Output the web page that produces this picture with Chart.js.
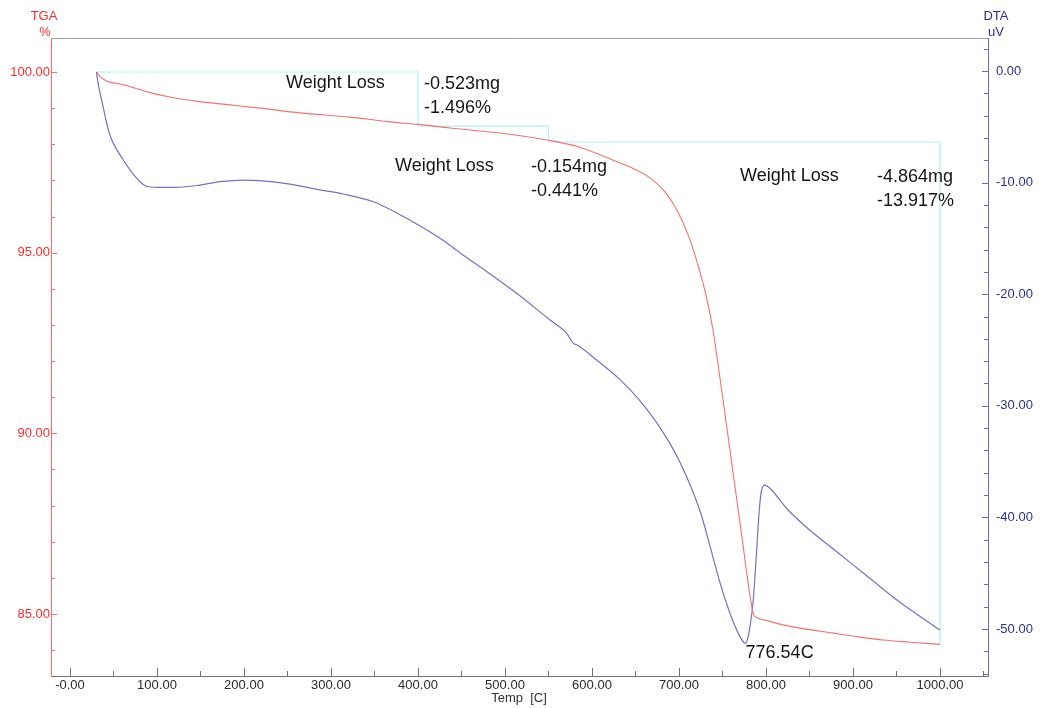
<!DOCTYPE html>
<html>
<head>
<meta charset="utf-8">
<title>TGA / DTA</title>
<script src="https://cdn.jsdelivr.net/npm/chart.js@4.4.1/dist/chart.umd.min.js"></script>
<style>
  html, body { margin: 0; padding: 0; background: #ffffff; }
  canvas { display: block; }
</style>
</head>
<body>
<canvas id="thermo" width="1041" height="708"></canvas>
<script>
const FONT = "'Liberation Sans', Arial, Helvetica, sans-serif";

// TGA trace: temperature (°C) and residual mass (%)
const tgaTemp = [31, 34.5, 63.2, 92, 120.7, 149.4, 183.9, 218.4, 264.4, 321.8, 367.8, 399.7, 436.8, 494.3,
  547.9, 586.2, 624.1, 643.7, 666.7, 683.9, 698.9, 711.5, 721.8, 731.0, 739.1, 747.1, 758.6, 771.3, 782.8,
  785.6, 789.7, 798.9, 816.1, 839.1, 877, 908, 934.5, 965.5, 1000];
const tgaPercent = [100.00, 99.87, 99.64, 99.43, 99.28, 99.18, 99.09, 99.00, 98.87, 98.75, 98.62, 98.55, 98.45, 98.31,
  98.12, 97.92, 97.56, 97.37, 97.07, 96.68, 96.12, 95.43, 94.66, 93.83, 92.86, 91.53, 89.54, 87.32, 85.33,
  85.00, 84.90, 84.83, 84.72, 84.61, 84.47, 84.36, 84.28, 84.22, 84.16];

// DTA trace: temperature (°C) and signal (uV)
const dtaTemp = [30.5, 32, 36.4, 45.2, 61.3, 80.5, 90, 103.4, 122.6, 149.4, 172.4, 199.2, 218.4, 252.9, 283.5,
  314.1, 348.6, 387, 425.3, 452.1, 475.1, 513.4, 551.7, 570.9, 578.5, 583, 605.4, 632.2, 655.2, 678.2,
  701.1, 724.1, 735.6, 747.1, 758.6, 768.2, 773.9, 776.54, 778.8, 781.6, 785.4, 789.3, 792.3, 795, 798.9,
  804.6, 823.8, 846.8, 885, 920, 954, 1000];
const dtaMicroVolt = [-0.10, -1.00, -2.60, -5.58, -7.97, -9.92, -10.37, -10.42, -10.42, -10.22, -9.92, -9.77, -9.83,
  -10.13, -10.60, -11.02, -11.71, -13.20, -14.99, -16.50, -17.75, -19.92, -22.31, -23.50, -24.40, -24.55,
  -25.90, -27.65, -29.55, -31.95, -35.05, -39.40, -42.55, -45.85, -48.59, -50.39, -51.14, -51.28, -50.90, -49.79,
  -47.40, -42.92, -39.34, -37.54, -37.10, -37.39, -39.20, -40.90, -43.30, -45.50, -47.60, -50.09];

// Axis ticks and their printed labels
const tempTicks = [0, 100, 200, 300, 400, 500, 600, 700, 800, 900, 1000];
const tempTickLabels = ["-0.00", "100.00", "200.00", "300.00", "400.00", "500.00", "600.00", "700.00", "800.00", "900.00", "1000.00"];
const tgaTicks = [100, 95, 90, 85];
const tgaTickLabels = ["100.00", "95.00", "90.00", "85.00"];
const dtaTicks = [0, -10, -20, -30, -40, -50];
const dtaTickLabels = ["0.00", "-10.00", "-20.00", "-30.00", "-40.00", "-50.00"];

// Weight-loss steps: start temperature, step end temperatures, loss per step
const stepStart = 30;
const stepEnds = [400, 550, 1000];
const stepLossPercent = [1.496, 0.441, 13.917];
const stepLossMg = [0.523, 0.154, 4.864];
const peakTemp = 776.54;

// Staircase that marks each weight-loss step on the TGA axis
function buildSteps() {
  let level = 100;
  const pts = [{ x: stepStart, y: level }];
  stepEnds.forEach((t, i) => {
    pts.push({ x: t, y: level });
    level -= stepLossPercent[i];
    pts.push({ x: t, y: level });
  });
  return pts;
}

// Where the step annotations sit, in axis units (temperature, TGA %)
const noteSpots = [
  { wl: [248.3, 99.70], mg: [406.9, 99.67], pct: [406.9, 99.00] },
  { wl: [373.6, 97.40], mg: [529.9, 97.37], pct: [529.9, 96.71] },
  { wl: [770.1, 97.12], mg: [927.6, 97.09], pct: [927.6, 96.43] }
];

const zip = (xs, ys) => xs.map((x, i) => ({ x, y: ys[i] }));

function fixTicks(values) {
  return scale => { scale.ticks = values.map(v => ({ value: v })); };
}

function hLine(ctx, x1, x2, y) {
  ctx.beginPath(); ctx.moveTo(x1, y); ctx.lineTo(x2, y); ctx.stroke();
}
function vLine(ctx, x, y1, y2) {
  ctx.beginPath(); ctx.moveTo(x, y1); ctx.lineTo(x, y2); ctx.stroke();
}
function range(from, to, step) {
  const out = [];
  for (let v = from; v <= to + 1e-9; v += step) out.push(+v.toFixed(6));
  return out;
}

// Frame, inward tick marks, axis titles and annotations
const decorations = {
  id: 'decorations',
  afterDatasetsDraw(chart) {
    const { ctx, chartArea: a, scales } = chart;
    const x = scales.x, yT = scales.yT, yD = scales.yD;
    ctx.save();
    ctx.lineWidth = 1;

    // top edge of the plot frame
    ctx.strokeStyle = '#a0a0a0';
    hLine(ctx, a.left, a.right, Math.round(a.top) + 0.5);

    // temperature ticks
    ctx.strokeStyle = '#707070';
    const xb = Math.round(a.bottom);
    range(0, 1000, 100).forEach(v => {
      const px = Math.round(x.getPixelForValue(v)) + 0.5;
      vLine(ctx, px, xb - 8, xb);
    });
    range(50, 1050, 100).forEach(v => {
      const px = Math.round(x.getPixelForValue(v)) + 0.5;
      if (px < a.right) vLine(ctx, px, xb - 5, xb);
    });

    // TGA ticks
    ctx.strokeStyle = '#ff6b6b';
    const lx = Math.round(a.left);
    range(84, 100, 1).forEach(v => {
      const py = Math.round(yT.getPixelForValue(v)) + 0.5;
      const major = v % 5 === 0;
      hLine(ctx, lx, lx + (major ? 6 : 4), py);
    });

    // DTA ticks
    ctx.strokeStyle = '#6b6bc4';
    const rx = Math.round(a.right);
    range(-54, 2, 2).forEach(v => {
      const py = Math.round(yD.getPixelForValue(v)) + 0.5;
      const major = v % 10 === 0;
      hLine(ctx, rx - (major ? 6 : 4), rx, py);
    });

    // axis titles
    ctx.textAlign = 'center';
    ctx.textBaseline = 'middle';
    ctx.font = '13px ' + FONT;
    ctx.fillStyle = '#ff2b2b';
    ctx.fillText('TGA', 44, 16);
    ctx.fillText('%', 45, 32);
    ctx.fillStyle = '#2e2e90';
    ctx.fillText('DTA', 996, 16);
    ctx.fillText('uV', 996, 32);
    ctx.fillStyle = '#333333';
    ctx.font = '13px ' + FONT;
    ctx.fillText('Temp  [C]', 519, 698);

    // weight-loss annotations
    ctx.textAlign = 'left';
    ctx.font = '18px ' + FONT;
    ctx.fillStyle = '#151515';
    noteSpots.forEach((s, i) => {
      ctx.fillText('Weight Loss', x.getPixelForValue(s.wl[0]), yT.getPixelForValue(s.wl[1]));
      ctx.fillText('-' + stepLossMg[i].toFixed(3) + 'mg', x.getPixelForValue(s.mg[0]), yT.getPixelForValue(s.mg[1]));
      ctx.fillText('-' + stepLossPercent[i].toFixed(3) + '%', x.getPixelForValue(s.pct[0]), yT.getPixelForValue(s.pct[1]));
    });
    ctx.fillText(peakTemp.toFixed(2) + 'C', x.getPixelForValue(peakTemp), yT.getPixelForValue(83.92));

    ctx.restore();
  }
};

new Chart(document.getElementById('thermo'), {
  type: 'line',
  data: {
    datasets: [
      {
        label: 'TGA',
        data: zip(tgaTemp, tgaPercent),
        yAxisID: 'yT',
        borderColor: '#f27272',
        borderWidth: 1.1,
        pointRadius: 0,
        cubicInterpolationMode: 'monotone'
      },
      {
        label: 'DTA',
        data: zip(dtaTemp, dtaMicroVolt),
        yAxisID: 'yD',
        borderColor: '#7272be',
        borderWidth: 1.2,
        pointRadius: 0,
        cubicInterpolationMode: 'monotone'
      },
      {
        label: 'Weight loss steps',
        data: buildSteps(),
        yAxisID: 'yT',
        borderColor: '#aef0f7',
        borderWidth: 1.2,
        pointRadius: 0,
        tension: 0
      }
    ]
  },
  options: {
    responsive: false,
    animation: false,
    events: [],
    layout: { padding: { top: 38, left: 0, right: 0, bottom: 0 } },
    plugins: { legend: { display: false }, tooltip: { enabled: false } },
    scales: {
      x: {
        type: 'linear',
        min: -21.84,
        max: 1055.2,
        afterBuildTicks: fixTicks(tempTicks),
        afterFit: s => { s.height = 32; },
        grid: { display: false, drawTicks: false },
        border: { display: true, color: '#707070', width: 1 },
        ticks: {
          padding: 2,
          autoSkip: false,
          maxRotation: 0,
          color: '#2a2a2a',
          font: { family: FONT, size: 13 },
          callback: (v) => tempTickLabels[tempTicks.indexOf(v)]
        }
      },
      yT: {
        type: 'linear',
        position: 'left',
        min: 83.284,
        max: 100.941,
        afterBuildTicks: fixTicks(tgaTicks),
        afterFit: s => { s.width = 51; },
        grid: { display: false, drawTicks: false },
        border: { display: true, color: '#ff6b6b', width: 1 },
        ticks: {
          padding: 1,
          color: '#ff2b2b',
          font: { family: FONT, size: 13 },
          callback: (v) => tgaTickLabels[tgaTicks.indexOf(v)]
        }
      },
      yD: {
        type: 'linear',
        position: 'right',
        min: -54.21,
        max: 2.957,
        afterBuildTicks: fixTicks(dtaTicks),
        afterFit: s => { s.width = 53; },
        grid: { display: false, drawTicks: false },
        border: { display: true, color: '#6b6bc4', width: 1 },
        ticks: {
          padding: 8,
          color: '#2e2e90',
          font: { family: FONT, size: 13 },
          callback: (v) => dtaTickLabels[dtaTicks.indexOf(v)]
        }
      }
    }
  },
  plugins: [decorations]
});
</script>
</body>
</html>
